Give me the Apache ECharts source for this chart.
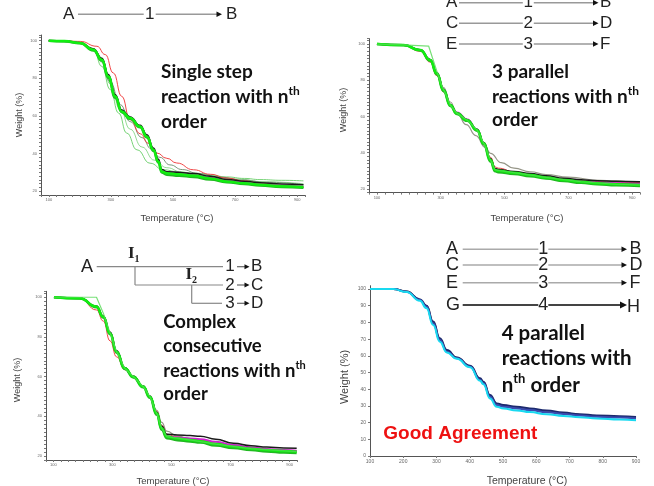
<!DOCTYPE html>
<html>
<head>
<meta charset="utf-8">
<style>html,body{margin:0;padding:0;background:#fff}#main{width:654px;height:486px}</style>
<script src="https://cdn.jsdelivr.net/npm/echarts@6.0.0/dist/echarts.min.js"></script>
</head>
<body>
<div id="main"></div>
<script>
// 图1 单步反应
var t1 = [100,150,201,244,271,292,314,335,362,394,416,437,453,464,480,520,566,620,673,730,780,850,920];
var w1Green = [100,99.8,98.8,95.2,89.9,81,70.4,62.4,58.9,54.4,49.1,42,35.8,30.5,29.6,29,28.3,26.8,25.2,24.2,23.4,22.7,22.2];
var w1Green2 = [100,99.7,98.6,94.8,89.3,80.2,69.6,62,58.5,54,48.6,41.4,35.2,30,28.8,28.2,27.6,26.2,24.8,23.8,23,22.3,21.8];
var w1Black = [100,99.8,98.9,95.6,90.6,82,71.2,63.2,59.5,55,50,43,37,31.5,30.4,30,29.4,28,26.3,25.3,24.5,23.9,23.4];
var w1Magenta = [100,99.8,98.8,95.2,90,81.2,70.6,62.5,59,54.5,49.3,42.3,36,30.8,30.2,29.8,28.8,27.2,25.6,24.5,23.6,22.9,22.4];
var t1Red = [100,150,201,255,282,308,335,362,395,420,448,480,512,566,620,673,730,780,850,920];
var w1Red = [100,99.9,99.6,97,92.6,82.8,70.4,58,50.5,45.5,40.3,37.5,35,31.4,29,27,25.5,24.3,23,22];
var t1FitA = [100,150,201,244,271,298,325,351,384,426,469,512,566,620,673,730,780,850,920];
var w1FitA = [100,99.8,98.8,95.2,86.3,74,61.5,50.9,42,34.9,31.4,30.5,29.6,28.6,27.6,26.8,26.2,25.8,25.5];
var t1FitB = [100,150,201,244,271,298,330,362,400,430,458,490,530,580,650,720,800,920];
var w1FitB = [100,99.8,98.9,95.8,90,78,66,57,48.5,42.5,38,34,31.5,29.5,27.5,26,24.8,23.5];
var t1FitC = [100,201,244,271,298,330,362,400,440,480,530,600,700,800,920];
var w1FitC = [100,98.8,95.5,88.5,77,63.5,53,43.5,36.5,32.5,30,28.3,26.5,25,24];

// 图2 三个平行反应
var t2 = [100,184,236,267,288,309,330,351,383,414,435,456,471,480,530,581,630,686,740,791,850,925];
var w2Green = [100,99.4,96.7,91.2,83.8,74.6,66.3,61.8,58,52.6,45.2,36,30.5,30,29,27.7,26.4,25,24,23.1,22.6,22.2];
var w2Green2 = [100,99.3,96.4,90.8,83.2,74,65.8,61.4,57.6,52.2,44.6,35.2,29.8,29.3,28.3,27,25.8,24.4,23.4,22.6,22,21.6];
var w2Black = [100,99.4,96.8,91.5,84.2,75,66.6,62,58.2,52.9,45.6,36.8,31.3,30.8,29.6,28.5,27.3,25.9,25.1,24.6,24.3,24];
var w2Magenta = [100,99.4,96.7,91.2,83.8,74.6,66.4,62.2,58.4,52.8,45.3,36.2,30.9,30.5,28.9,27.8,26.5,25.2,24.3,23.6,23.2,22.9];
var w2Red = [100,99.2,96,90,82.5,73.5,66,61.5,57.8,52.8,45.8,37.5,32.2,31.5,29.5,28,26.8,25.5,24.6,24,23.7,23.5];
var t2Step = [100,180,262,278,300,330,351,383,414,435,456,471,530,630,740,850,925];
var w2Step = [100,99.5,98.9,90.2,78.5,66.3,61.8,58,52.6,45.2,36,30.5,29,26.4,24,22.6,22.2];
var t2Gray = [100,184,236,267,288,309,330,351,380,410,440,456,490,530,581,630,700,800,925];
var w2Gray = [100,99.3,96.5,91,84,76,68,61.8,55.5,49.5,43,39.7,34.5,31.5,29.5,28,26.5,24.8,23.4];

// 图3 复杂连续反应
var t3 = [102,190,246,269,292,314,342,371,404,427,450,467,484,520,563,597,650,710,770,823,880,924];
var w3Green = [100,99.5,95.3,90.2,81.9,72.6,64.2,60,55,49.9,41.5,34,29.8,28.8,28.1,27.5,26,24.7,23.7,23,22.5,22.2];
var w3Green2 = [100,99.4,95,89.8,81.3,72,63.8,59.6,54.6,49.4,40.8,33.2,29,28,27.3,26.8,25.3,24,23,22.3,21.8,21.5];
var w3Black = [100,99.5,95.5,90.5,82.5,73,64.5,60.2,55.2,50.2,42,35,31,30.6,30.3,30,28.5,26.4,25.2,24.5,24.1,23.9];
var w3Magenta = [100,99.5,95.3,90.2,82,72.8,64,59.8,55,49.8,41.2,33.5,30,29.3,28.8,28.5,27.2,25.5,24.3,23.5,23,22.7];
var w3Red = [100,99.3,93.6,88,78,70,63.5,59.5,54.8,49.5,42.5,35.5,31,29.5,28.5,27.8,26.3,25,24,23.3,22.8,22.5];
var w3Gray = [100,99.5,95.5,90.3,82,72.8,64.5,60.3,55.3,50,43,37,32.5,30,28.8,28,26.5,25,24,23.3,22.8,22.5];
var t3Step = [102,190,246,269,292,314,342,371,404,427,450,467,484,563,650,770,924];
var w3Step = [100,100,100,92,82,72.6,64.2,60,55,49.9,41.5,34,29.8,28.1,26,23.7,22.2];

// 图4 四个平行反应
var t4 = [100,170,210,250,270,290,310,331,361,401,431,441,461,481,501,541,581,631,681,731,782,850,900];
var w4Navy = [100,100,98.5,93.8,90,80.5,70.5,63.5,59,54,46.5,44.5,36.5,31.5,30.5,29.5,28.5,27.2,26,25,24.3,23.8,23.3];
var w4Cyan = [100,100,98.2,93,88.5,78.5,68.5,62,58.2,53.2,45,43,34.5,29.5,28.5,27.3,26.3,25,24,23.2,22.5,21.9,21.4];
var w4Blue = [100,100,98.4,93.4,89.4,79.4,69.5,62.5,58.5,53.5,45.5,43.5,35.5,30.5,29.5,28.5,27.5,26.2,25.2,24.2,23.5,23,22.5];
var w4Olive = [100,100,98.5,93.6,89.8,80,70,63,58.8,53.8,46,44,36,31,30,29,28,26.8,25.6,24.6,23.9,23.4,22.9];

// 刻度标签
var xLabels = [100,300,500,700,900];
var yLabels = [20,40,60,80,100];
var yLabels4 = [0,10,20,30,40,50,60,70,80,90,100];

var myChart = echarts.init(document.getElementById('main'));

function xAx(gi, min, max, interval, labels, fs) {
    return {
        type: 'value', gridIndex: gi, min: min, max: max, interval: interval,
        axisLine: {lineStyle: {color: '#555', width: 1}},
        axisTick: {length: 2, lineStyle: {color: '#777'}},
        axisLabel: {customValues: labels, fontSize: fs, color: '#666', margin: 3},
        splitLine: {show: false}
    };
}
function yAx(gi, min, max, interval, labels, fs, ticks) {
    var a = {
        type: 'value', gridIndex: gi, min: min, max: max, interval: interval,
        axisLine: {show: true, lineStyle: {color: '#555', width: 1}},
        axisTick: {show: true, length: 2, lineStyle: {color: '#777'}},
        axisLabel: {customValues: labels, fontSize: fs, color: '#666', margin: 4},
        splitLine: {show: false}
    };
    if (ticks) a.axisTick.customValues = ticks;
    return a;
}
function line(gi, t, w, color, width, opacity, smooth) {
    return {
        type: 'line', xAxisIndex: gi, yAxisIndex: gi, silent: true,
        data: t.map(function (v, i) { return [v, w[i]]; }),
        showSymbol: false, symbol: 'none',
        smooth: smooth === false ? false : 0.5, smoothMonotone: 'x',
        lineStyle: {color: color, width: width, opacity: opacity}
    };
}

// 反应式图形
var FONT_SCH = 'Liberation Sans, Arial, sans-serif';
var FONT_NOTE = 'Lato, sans-serif';
var g = [];
function text(x, y, s, size, o) {
    o = o || {};
    var st = {
        text: s, fontSize: size, fontFamily: o.font || FONT_SCH, fontWeight: o.weight || 'normal',
        fill: o.color || '#222', align: o.align || 'left', verticalAlign: 'middle'
    };
    if (o.rich) st.rich = o.rich;
    if (o.lh) st.lineHeight = o.lh;
    g.push({type: 'text', x: x, y: y, rotation: o.rot || 0, z: 100, style: st});
}
function seg(x1, y1, x2, y2, color, w) {
    g.push({type: 'line', z: 100, shape: {x1: x1, y1: y1, x2: x2, y2: y2}, style: {stroke: color || '#999', lineWidth: w || 1.5}});
}
function head(x, y, s, color) {
    g.push({type: 'polygon', z: 100, shape: {points: [[x - s, y - s / 2], [x, y], [x - s, y + s / 2]]}, style: {fill: color || '#111'}});
}
function row(lx, x1, xn, gap, x2, bx, y, a, n, b, size, color, lw, by) {
    text(lx, y, a, size);
    seg(x1, y, xn - gap, y, color, lw);
    text(xn, y, n, size, {align: 'center'});
    seg(xn + gap, y, x2 - 4, y, color, lw);
    head(x2, y, lw > 2 ? 7 : 5.5);
    text(bx, by || y, b, size);
}

// 图1 反应式
row(63, 78, 149.7, 6, 222, 226, 14.3, 'A', '1', 'B', 17, '#999', 1.5);
// 图2 反应式
row(446, 459, 528.3, 5.5, 598.5, 600, 2.7, 'A', '1', 'B', 17, '#999', 1.5);
row(446, 459, 528.3, 5.5, 598.5, 600, 23.3, 'C', '2', 'D', 17, '#999', 1.5);
row(446, 459, 528.3, 5.5, 598.5, 600, 44, 'E', '3', 'F', 17, '#999', 1.5);
// 图4 反应式
row(446, 462.7, 543.3, 5, 627, 629.5, 249.3, 'A', '1', 'B', 18, '#aaa', 1.5);
row(446, 462.7, 543.3, 5, 627, 629.5, 265, 'C', '2', 'D', 18, '#aaa', 1.5);
row(446, 462.7, 543.3, 5, 627, 629.5, 282.7, 'E', '3', 'F', 18, '#aaa', 1.5);
row(446, 462.7, 543.3, 5, 627, 627, 305, 'G', '4', 'H', 18, '#444', 2.2, 307);
// 图3 反应式
var c3 = '#888';
text(81, 266.7, 'A', 18);
seg(96.7, 266.7, 223, 266.7, c3, 1.2);
seg(135, 266.7, 135, 285, c3, 1.2);
seg(135, 285, 223, 285, c3, 1.2);
seg(191.7, 285, 191.7, 303.3, c3, 1.2);
seg(191.7, 303.3, 222, 303.3, c3, 1.2);
text(128, 253.3, 'I', 17, {font: 'Liberation Serif, serif', weight: 'bold'});
text(134.5, 259, '1', 10, {font: 'Liberation Serif, serif', weight: 'bold'});
text(185.5, 275, 'I', 17, {font: 'Liberation Serif, serif', weight: 'bold'});
text(192, 280.5, '2', 10, {font: 'Liberation Serif, serif', weight: 'bold'});
[[266.7, '1', 'B'], [285, '2', 'C'], [303.3, '3', 'D']].forEach(function (r) {
    text(230, r[0], r[1], 17, {align: 'center'});
    seg(237, r[0], 245, r[0], '#666', 1.2);
    head(249.5, r[0], 5);
    text(251, r[0], r[2], 17);
});

// 注释文字
function note(x, ys, lines, size) {
    var sup = {sup: {fontSize: Math.round(size * 0.62), fontWeight: 'bold', fontFamily: FONT_NOTE, fill: '#111', verticalAlign: 'top', lineHeight: Math.round(size * 0.75)}};
    lines.forEach(function (s, i) {
        text(x, ys[i], s, size, {font: FONT_NOTE, weight: 'bold', color: '#111', rich: sup, lh: Math.round(size * 1.25)});
    });
}
note(161, [71.7, 96.7, 121.7], ['Single step', 'reaction with n{sup|th}', 'order'], 19);
note(492, [71.7, 96.7, 120], ['3 parallel', 'reactions with n{sup|th}', 'order'], 19);
note(163.3, [321.7, 346, 371, 394.3], ['Complex', 'consecutive', 'reactions with n{sup|th}', 'order'], 18.5);
note(501.7, [333.3, 358.3, 385], ['4 parallel', 'reactions with', 'n{sup|th} order'], 20.5);
text(383.3, 433.3, 'Good Agreement', 19, {weight: 'bold', color: '#ee1111'});

// 坐标轴名称
var nameStyle = {color: '#444', align: 'center'};
text(20, 115, 'Weight (%)', 9, {color: '#444', align: 'center', rot: Math.PI / 2});
text(177, 218, 'Temperature (\u00b0C)', 9.5, nameStyle);
text(343.3, 110, 'Weight (%)', 9, {color: '#444', align: 'center', rot: Math.PI / 2});
text(527, 218, 'Temperature (\u00b0C)', 9.5, nameStyle);
text(18, 380, 'Weight (%)', 9, {color: '#444', align: 'center', rot: Math.PI / 2});
text(173, 481.7, 'Temperature (\u00b0C)', 9.5, nameStyle);
text(345, 377, 'Weight (%)', 11, {color: '#444', align: 'center', rot: Math.PI / 2});
text(527, 481, 'Temperature (\u00b0C)', 10.5, nameStyle);

var option = {
    animation: false,
    backgroundColor: '#fff',
    grid: [
        {left: 41, top: 35, width: 264, height: 160},
        {left: 369, top: 38.6, width: 271, height: 154},
        {left: 46, top: 291.3, width: 251, height: 168.7},
        {left: 370, top: 285.7, width: 266, height: 170.3}
    ],
    xAxis: [
        xAx(0, 75, 925, 25, xLabels, 4),
        xAx(1, 75, 925, 25, xLabels, 4),
        xAx(2, 75, 925, 25, xLabels, 4),
        xAx(3, 100, 900, 100, null, 5)
    ],
    yAxis: [
        yAx(0, 18, 103, 2, yLabels, 4),
        yAx(1, 18, 103, 2, yLabels, 4),
        yAx(2, 18, 103, 2, yLabels, 4),
        yAx(3, 0, 102, 10, yLabels4, 5, yLabels4)
    ],
    series: [
        line(0, t1FitC, w1FitC, '#66cc66', 1, 0.7),
        line(0, t1FitA, w1FitA, '#55c855', 1, 0.8),
        line(0, t1FitB, w1FitB, '#6b8c6b', 1, 0.9),
        line(0, t1Red, w1Red, '#ee3333', 1, 0.9),
        line(0, t1, w1Magenta, '#d020d0', 2, 1),
        line(0, t1, w1Black, '#1a1a1a', 1.5, 1),
        line(0, t1, w1Green2, '#22b822', 2.5, 1),
        line(0, t1, w1Green, '#11ee11', 2.5, 1),

        line(1, t2Gray, w2Gray, '#8a8a7a', 1.2, 0.9),
        line(1, t2, w2Red, '#ee3333', 1, 0.9),
        line(1, t2, w2Magenta, '#d020d0', 2, 1),
        line(1, t2, w2Black, '#1a1a1a', 1.5, 1),
        line(1, t2, w2Green2, '#22b822', 2.5, 1),
        line(1, t2, w2Green, '#11ee11', 2.5, 1),
        line(1, t2Step, w2Step, '#55d855', 1.2, 0.8, false),

        line(2, t3, w3Gray, '#8a8a7a', 1.2, 0.9),
        line(2, t3, w3Red, '#ee3333', 1, 0.9),
        line(2, t3, w3Magenta, '#d020d0', 2, 1),
        line(2, t3, w3Black, '#1a1a1a', 1.5, 1),
        line(2, t3, w3Green2, '#22b822', 2.5, 1),
        line(2, t3, w3Green, '#11ee11', 2.5, 1),
        line(2, t3Step, w3Step, '#55d855', 1.2, 0.8, false),

        line(3, t4, w4Olive, '#8a7a40', 2, 1),
        line(3, t4, w4Navy, '#1c2a6e', 2, 1),
        line(3, t4, w4Blue, '#3a4ab0', 2, 1),
        line(3, t4, w4Cyan, '#19d9f0', 2, 1)
    ],
    graphic: {elements: g}
};
myChart.setOption(option);
</script>
</body>
</html>
